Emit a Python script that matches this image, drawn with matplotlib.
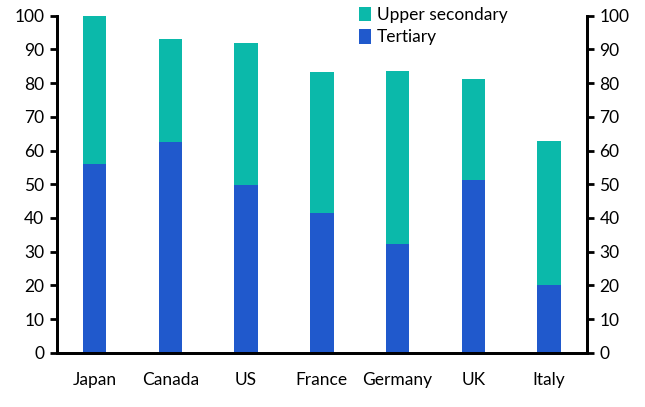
import numpy as np
import matplotlib
matplotlib.use('Agg')
from matplotlib import pyplot as plt

countries = ['Japan', 'Canada', 'US', 'France', 'Germany', 'UK', 'Italy']
tertiary = [56.0, 62.5, 49.8, 41.5, 32.3, 51.2, 20.1]
upper_secondary = [44.0, 30.6, 42.1, 41.8, 51.3, 30.0, 42.7]
yticks = np.arange(0, 110, 10)

plt.rcParams['font.family'] = ['Lato', 'DejaVu Sans']
plt.rcParams['font.size'] = 12.5

fig = plt.figure(figsize=(6.45, 4.07), dpi=100)
ax = fig.add_axes([0.088, 0.1334, 0.822, 0.828])

x = np.arange(len(countries))
b1 = ax.bar(x, tertiary, width=0.31, color='#2059cc', label='Tertiary', zorder=2)
b2 = ax.bar(x, upper_secondary, width=0.31, bottom=tertiary, color='#0bb9aa',
            label='Upper secondary', zorder=2)

ax.set_xlim(-0.5, len(countries) - 0.5)
ax.set_ylim(0, 100)
ax.set_xticks(x)
ax.set_xticklabels(countries)
ax.set_yticks(yticks)
ax.tick_params(axis='x', length=0, pad=14)
ax.tick_params(axis='y', direction='out', length=5, width=2, pad=4)

ax2 = ax.twinx()
ax2.set_ylim(0, 100)
ax2.set_yticks(yticks)
ax2.tick_params(axis='y', direction='out', length=5, width=2, pad=4)

for a in (ax, ax2):
    a.spines['top'].set_visible(False)
    for s in ('left', 'right', 'bottom'):
        a.spines[s].set_linewidth(2)

fig.legend([b2, b1], ['Upper secondary', 'Tertiary'], loc='upper left',
           bbox_to_anchor=(352 / 645, 1.0), frameon=False, handlelength=0.7,
           handleheight=0.9, handletextpad=0.35, labelspacing=0.35,
           borderaxespad=0.0, fontsize=12.5)

plt.savefig('out.png', dpi=100)
